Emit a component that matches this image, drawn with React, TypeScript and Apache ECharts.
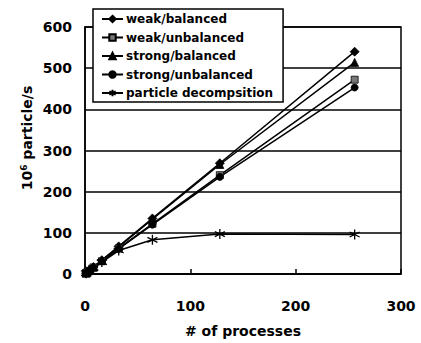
import React, { useEffect, useRef } from "react";
import * as echarts from "echarts";

const procs = [1, 2, 4, 8, 16, 32, 64, 128, 256];
const weakBalanced = [2.1, 4.2, 8.4, 16.8, 33.6, 67, 135, 269, 540];
const weakUnbalanced = [2, 4, 8, 16, 31, 62, 122, 240, 472];
const strongBalanced = [2.1, 4.2, 8.3, 16.6, 33, 66, 133, 266, 514];
const strongUnbalanced = [2, 3.9, 7.8, 15.5, 31, 61, 120, 236, 453];
const particleDecomp = [2, 4, 8, 15, 29, 57, 83, 97, 96];

const yTicks = [0, 100, 200, 300, 400, 500, 600];
const xTicks = [0, 100, 200, 300];

const STAR = "path://M0,-5L0,5M-4.5,-2.5L4.5,2.5M-4.5,2.5L4.5,-2.5";

const font = "'DejaVu Sans', 'Liberation Sans', Arial, sans-serif";

export default function App() {
  const ref = useRef<HTMLDivElement>(null);
  useEffect(() => {
    if (!ref.current) return;
    const chart = echarts.init(ref.current, undefined, { renderer: "svg" });
    const mk = (name: string, data: number[], symbol: string, size: number, fill: string) => ({
      name,
      type: "line",
      data: procs.map((p, i) => [p, data[i]]),
      symbol,
      symbolSize: size,
      showSymbol: true,
      lineStyle: { color: "#000", width: 1.5 },
      itemStyle: { color: fill, borderColor: "#000", borderWidth: symbol === STAR ? 1.3 : 0.8 },
      z: 3,
    });
    chart.setOption({
      animation: false,
      backgroundColor: "#fff",
      textStyle: { fontFamily: font },
      grid: {
        left: 85,
        right: 20,
        top: 27,
        bottom: 55,
        show: true,
        borderColor: "#000",
        borderWidth: 1.5,
      },
      graphic: [
        {
          type: "text",
          x: 27,
          y: 138,
          rotation: Math.PI / 2,
          z: 10,
          style: {
            text: "10{sup|6} particle/s",
            fontFamily: font,
            fontWeight: "bold",
            fontSize: 14,
            fill: "#000",
            align: "center",
            verticalAlign: "middle",
            rich: {
              sup: { fontSize: 9, fontWeight: "bold", fontFamily: font, verticalAlign: "top", padding: [0, 0, 6, 0] },
            },
          },
        },
      ],
      legend: {
        left: 93,
        top: 9,
        orient: "vertical",
        backgroundColor: "#fff",
        borderColor: "#000",
        borderWidth: 1.5,
        padding: [3, 10, 2, 8],
        itemGap: 4.5,
        itemWidth: 21,
        itemHeight: 8,
        z: 10,
        textStyle: {
          fontFamily: font,
          fontWeight: "bold",
          fontSize: 12,
          lineHeight: 14,
          color: "#000",
          padding: [0, 0, 0, -2],
        },
        data: [
          "weak/balanced",
          "weak/unbalanced",
          "strong/balanced",
          "strong/unbalanced",
          "particle decompsition",
        ],
      },
      xAxis: {
        type: "value",
        min: 0,
        max: 300,
        interval: 100,
        name: "# of processes",
        nameLocation: "middle",
        nameGap: 50,
        nameTextStyle: { fontFamily: font, fontWeight: "bold", fontSize: 14, color: "#000" },
        axisLine: { lineStyle: { color: "#000", width: 1.5 } },
        axisTick: { inside: true, length: 5, lineStyle: { color: "#000", width: 1.5 } },
        axisLabel: {
          margin: 25,
          fontFamily: font,
          fontWeight: "bold",
          fontSize: 14,
          color: "#000",
          formatter: (v: number) => (xTicks.includes(v) ? String(v) : ""),
        },
        splitLine: { show: false },
      },
      yAxis: {
        type: "value",
        min: 0,
        max: 600,
        interval: 100,
        axisLine: { lineStyle: { color: "#000", width: 1.5 } },
        axisTick: { show: false },
        axisLabel: {
          margin: 13,
          fontFamily: font,
          fontWeight: "bold",
          fontSize: 14,
          color: "#000",
          formatter: (v: number) => (yTicks.includes(v) ? String(v) : ""),
        },
        splitLine: { show: true, lineStyle: { color: "#000", width: 1.5 } },
      },
      series: [
        mk("weak/balanced", weakBalanced, "diamond", 9, "#000"),
        mk("weak/unbalanced", weakUnbalanced, "rect", 7, "#777"),
        mk("strong/balanced", strongBalanced, "triangle", 8, "#000"),
        mk("strong/unbalanced", strongUnbalanced, "circle", 7, "#000"),
        mk("particle decompsition", particleDecomp, STAR, 10, "none"),
      ],
    });
    return () => chart.dispose();
  }, []);
  return (
    <div
      ref={ref}
      style={{ position: "fixed", left: 0, top: 0, width: 421, height: 343, background: "#fff" }}
    />
  );
}
